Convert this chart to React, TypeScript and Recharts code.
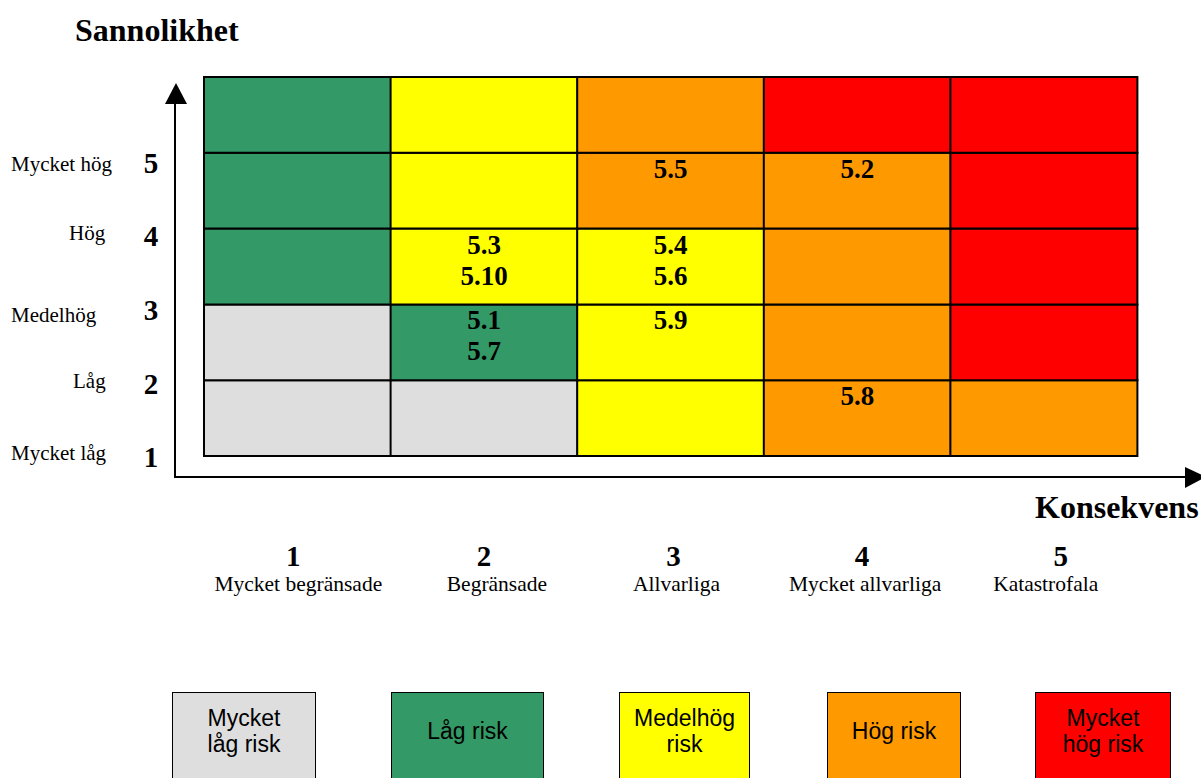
import { BarChart, Bar, XAxis, YAxis, Cell, LabelList, Legend } from 'recharts';

// Konsekvens (x) och sannolikhet (y)
const CONSEQUENCE_LEVELS = [1, 2, 3, 4, 5];
const CONSEQUENCE_NAMES = ['Mycket begränsade', 'Begränsade', 'Allvarliga', 'Mycket allvarliga', 'Katastrofala'];
const LIKELIHOOD_LEVELS = [1, 2, 3, 4, 5];
const LIKELIHOOD_NAMES = ['Mycket låg', 'Låg', 'Medelhög', 'Hög', 'Mycket hög'];

// riskklasser
const RISK_LABELS = [['Mycket', 'låg risk'], ['Låg risk'], ['Medelhög', 'risk'], ['Hög risk'], ['Mycket', 'hög risk']];
const RISK_COLORS = ['#dedede', '#339966', '#ffff00', '#ff9900', '#ff0000'];

// riskklass per ruta: rad = sannolikhet 1..5 (nerifrån), kolumn = konsekvens 1..5
const RISK_GRID = [
  [0, 0, 2, 3, 3],
  [0, 1, 2, 3, 4],
  [1, 2, 2, 3, 4],
  [1, 2, 3, 3, 4],
  [1, 2, 3, 4, 4],
];

// identifierade risker
const RISK_IDS = ['5.1', '5.2', '5.3', '5.4', '5.5', '5.6', '5.7', '5.8', '5.9', '5.10'];
const RISK_CONSEQUENCE = [2, 4, 2, 3, 3, 3, 2, 4, 3, 2];
const RISK_LIKELIHOOD = [2, 4, 3, 3, 4, 3, 2, 1, 2, 3];

// layout (tab-stops i originalet)
const Y_LABEL_X = [11, 73, 11, 69, 11];
const Y_LABEL_DY = [-7, -6, 2, -6, -2];
const X_NUM_DX = [-4, 0, 3, 5, 17];
const X_NAME_DX = [1, 13, 6, 8, 2];
const LEGEND_LEFT = [172, 391, 619, 827, 1035];
const LEGEND_WIDTH = [144, 153, 131, 134, 136];

const SERIF = '"Liberation Serif", "Times New Roman", serif';
const SANS = '"Liberation Sans", Arial, sans-serif';

const chartData = CONSEQUENCE_LEVELS.map((k) => {
  const row: Record<string, number> = { konsekvens: k };
  LIKELIHOOD_LEVELS.forEach((l) => {
    row['s' + l] = 1;
  });
  return row;
});

function YTick(props: any) {
  const level = Math.round(props.payload.value + 0.5);
  const i = level - 1;
  const base = props.y + 49 + i * 2.25;
  return (
    <g>
      <text x={151} y={base} textAnchor="middle" fontFamily={SERIF} fontWeight="bold" fontSize={29} fill="#000">
        {level}
      </text>
      <text x={Y_LABEL_X[i]} y={base + Y_LABEL_DY[i]} fontFamily={SERIF} fontSize={21} fill="#000">
        {LIKELIHOOD_NAMES[i]}
      </text>
    </g>
  );
}

function XTick(props: any) {
  const i = CONSEQUENCE_LEVELS.indexOf(props.payload.value);
  return (
    <g>
      <text x={props.x + X_NUM_DX[i]} y={props.y + 110} textAnchor="middle" fontFamily={SERIF} fontWeight="bold" fontSize={29} fill="#000">
        {props.payload.value}
      </text>
      <text x={props.x + X_NAME_DX[i]} y={props.y + 135} textAnchor="middle" fontFamily={SERIF} fontSize={21.5} fill="#000">
        {CONSEQUENCE_NAMES[i]}
      </text>
    </g>
  );
}

function cellText(props: any, likelihood: number) {
  const { x, y, width, index } = props;
  const cons = CONSEQUENCE_LEVELS[index];
  const ids = RISK_IDS.filter((_, i) => RISK_CONSEQUENCE[i] === cons && RISK_LIKELIHOOD[i] === likelihood);
  if (!ids.length) return null;
  const cx = Number(x) + Number(width) / 2;
  return (
    <g>
      {ids.map((id, j) => (
        <text key={id} x={cx} y={Number(y) + 25 + j * 31} textAnchor="middle" fontFamily={SERIF} fontWeight="bold" fontSize={27} fill="#000">
          {id}
        </text>
      ))}
    </g>
  );
}

function RiskLegend() {
  return (
    <div style={{ position: 'relative', width: 1201, height: 100 }}>
      {RISK_LABELS.map((lines, i) => (
        <div
          key={i}
          style={{
            position: 'absolute',
            left: LEGEND_LEFT[i],
            top: 0,
            width: LEGEND_WIDTH[i],
            height: 100,
            boxSizing: 'border-box',
            border: '1.5px solid #000',
            background: RISK_COLORS[i],
            paddingTop: 12,
          }}
        >
          <div
            style={{
              height: 52,
              display: 'flex',
              flexDirection: 'column',
              justifyContent: 'center',
              alignItems: 'center',
              fontFamily: SANS,
              fontSize: 23,
              lineHeight: '26px',
              color: '#000',
            }}
          >
            {lines.map((t) => (
              <div key={t}>{t}</div>
            ))}
          </div>
        </div>
      ))}
    </div>
  );
}

export default function App() {
  return (
    <div style={{ position: 'absolute', left: 0, top: 0, width: 1201, height: 778, overflow: 'hidden', background: '#fff' }}>
      <BarChart
        width={1201}
        height={778}
        data={chartData}
        margin={{ top: 77, right: 64, bottom: 172, left: 0 }}
        barCategoryGap={0}
        barGap={0}
      >
        <XAxis
          dataKey="konsekvens"
          type="category"
          height={150}
          axisLine={false}
          tickLine={false}
          tickSize={0}
          tickMargin={0}
          interval={0}
          tick={<XTick />}
        />
        <YAxis
          type="number"
          domain={[0, 5]}
          ticks={LIKELIHOOD_LEVELS.map((l) => l - 0.5)}
          width={204}
          axisLine={false}
          tickLine={false}
          interval={0}
          tick={<YTick />}
        />
        {LIKELIHOOD_LEVELS.map((l, ri) => (
          <Bar key={l} dataKey={'s' + l} stackId="grid" isAnimationActive={false} stroke="#000" strokeWidth={2}>
            {chartData.map((d, ci) => (
              <Cell key={ci} fill={RISK_COLORS[RISK_GRID[ri][ci]]} />
            ))}
            <LabelList content={(p: any) => cellText(p, l)} />
          </Bar>
        ))}
        <Legend
          layout="horizontal"
          verticalAlign="middle"
          align="center"
          wrapperStyle={{ top: 692, left: 0, width: 1201, height: 100 }}
          content={<RiskLegend />}
        />
      </BarChart>
      <svg width={1201} height={778} style={{ position: 'absolute', left: 0, top: 0, pointerEvents: 'none' }}>
        <text x={75} y={41} fontFamily={SERIF} fontWeight="bold" fontSize={32} fill="#000">
          Sannolikhet
        </text>
        <text x={1035} y={518} fontFamily={SERIF} fontWeight="bold" fontSize={32} fill="#000">
          Konsekvens
        </text>
        <line x1={175} y1={478} x2={175} y2={100} stroke="#000" strokeWidth={2} />
        <polygon points="165,104 187,104 176,83" fill="#000" />
        <line x1={174} y1={477} x2={1188} y2={477} stroke="#000" strokeWidth={2} />
        <polygon points="1185,467 1185,488 1206,477" fill="#000" />
      </svg>
    </div>
  );
}
